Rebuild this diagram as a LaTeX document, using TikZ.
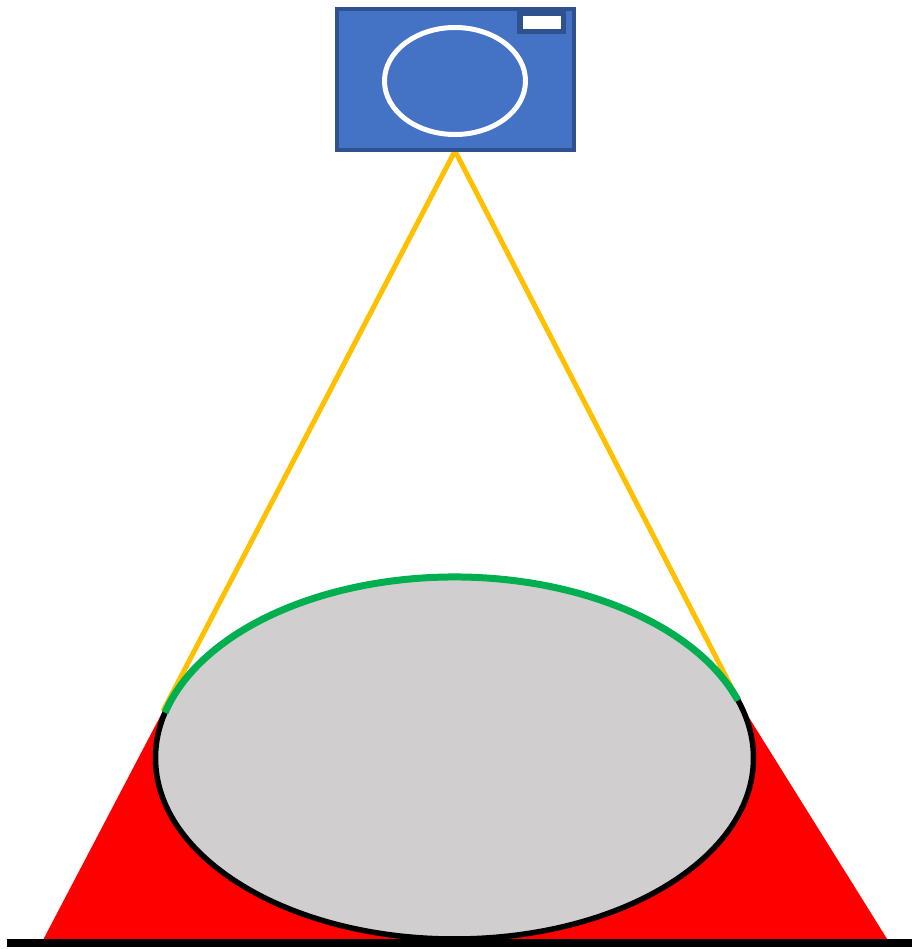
\documentclass[tikz,border=0pt]{standalone}
\usepackage{xcolor}
\usepackage{tikz}
\definecolor{camerablue}{HTML}{4472C4}
\definecolor{cameraedge}{HTML}{2F528F}
\definecolor{coneyellow}{HTML}{FFC000}
\definecolor{visiblegreen}{HTML}{00B050}
\definecolor{bodygrey}{HTML}{D0CECE}
\begin{document}
\begin{tikzpicture}
      \useasboundingbox (0,0) rectangle (9.12,9.49);
      \coordinate (apex) at (4.55,7.98);
      \coordinate (tangentl) at (1.63,2.38);
      \coordinate (tangentr) at (7.38,2.49);
      \coordinate (basel) at (0.42,0.07);
      \coordinate (baser) at (8.89,0.07);
      \coordinate (body) at (4.545,1.91);
      \fill[red] (tangentl) -- (basel) -- (baser) -- (tangentr) -- cycle;
      \draw[coneyellow, line width=0.05cm] (tangentl) -- (apex) -- (tangentr);
      \draw[black, line width=0.055cm, fill=bodygrey] (body) ellipse (2.99cm and 1.81cm);
      \draw[visiblegreen, line width=0.07cm] (body) ++(18.5:2.99cm and 1.81cm) arc (18.5:165.5:2.99cm and 1.81cm);
      \draw[black, line width=0.07cm] (0.07,0.06) -- (9.12,0.06);
      \draw[cameraedge, line width=0.045cm, fill=camerablue] (3.37,9.40) rectangle (5.74,7.99);
      \draw[white, line width=0.05cm] (4.55,8.68) ellipse (0.705cm and 0.535cm);
      \draw[cameraedge, line width=0.055cm, fill=white] (5.20,9.36) rectangle (5.635,9.175);
    \end{tikzpicture}
\end{document}
